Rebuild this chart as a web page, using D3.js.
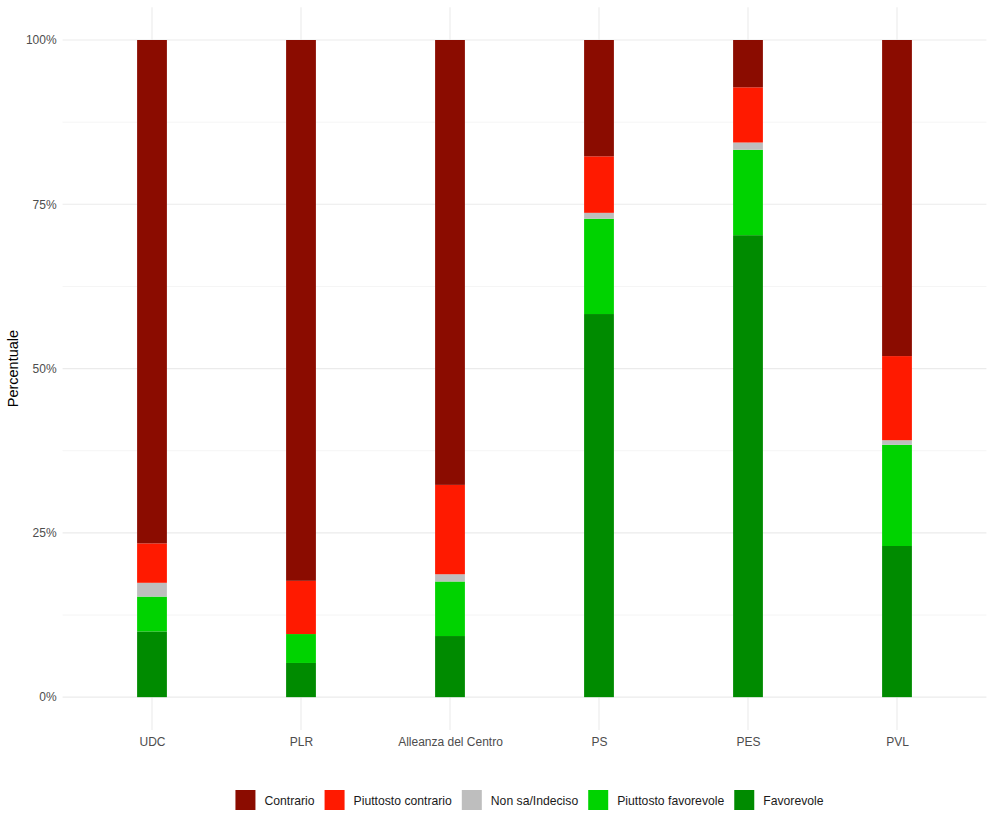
<!DOCTYPE html>
<html>
<head>
<meta charset="utf-8">
<script src="https://cdn.jsdelivr.net/npm/d3@7"></script>
<style>
  body { margin: 0; background: #fff; }
  text { font-family: "Liberation Sans", Arial, sans-serif; }
</style>
</head>
<body>
<svg id="chart"></svg>
<script>
// parties and response categories (bottom to top of each bar)
const partiti = ['UDC', 'PLR', 'Alleanza del Centro', 'PS', 'PES', 'PVL'];
const risposte = ['Favorevole', 'Piuttosto favorevole', 'Non sa/Indeciso', 'Piuttosto contrario', 'Contrario'];
const legendOrder = ['Contrario', 'Piuttosto contrario', 'Non sa/Indeciso', 'Piuttosto favorevole', 'Favorevole'];
const colori = ['#008B00', '#00D300', '#BEBEBE', '#FF1A00', '#8B0C00'];

// percentages per party
const favorevole    = [10.0, 5.2,  9.3, 58.3, 70.3, 23.0];
const piuttostoFav  = [5.3,  4.4,  8.3, 14.5, 13.0, 15.4];
const nonSa         = [2.1,  0.0,  1.1, 0.9,  1.1,  0.7];
const piuttostoCon  = [6.0,  8.1, 13.6, 8.6,  8.4, 12.8];
const contrario     = [76.6, 82.3, 67.7, 17.7, 7.2, 48.1];

const yTicks = [0, 25, 50, 75, 100];
const yMinor = [12.5, 37.5, 62.5, 87.5];

var svgWidth = 994, svgHeight = 828;
var svg = d3.select('#chart').attr('width', svgWidth).attr('height', svgHeight);

// panel
var pLeft = 62.6, pRight = 986.4, pTop = 7.15, pBottom = 730;

var rows = partiti.map((p, i) => ({
  partito: p,
  'Favorevole': favorevole[i],
  'Piuttosto favorevole': piuttostoFav[i],
  'Non sa/Indeciso': nonSa[i],
  'Piuttosto contrario': piuttostoCon[i],
  'Contrario': contrario[i]
}));
// normalise each row to 100
rows.forEach(r => {
  var tot = d3.sum(risposte, k => r[k]);
  risposte.forEach(k => r[k] = r[k] / tot * 100);
});

// ggplot-like discrete expansion: 0.6 units on each side
var x = d3.scalePoint().domain(partiti)
  .range([pLeft, pRight]).padding(0.6);
var unit = x.step();
var barW = unit * 0.2;

var y = d3.scaleLinear().domain([-5, 105]).range([pBottom, pTop]);
var color = d3.scaleOrdinal().domain(risposte).range(colori);

// grid
var grid = svg.append('g');
grid.selectAll('.minor').data(yMinor).enter().append('line')
  .attr('x1', pLeft).attr('x2', pRight)
  .attr('y1', d => y(d)).attr('y2', d => y(d))
  .attr('stroke', '#ebebeb').attr('stroke-width', 0.55);
grid.selectAll('.major').data(yTicks).enter().append('line')
  .attr('x1', pLeft).attr('x2', pRight)
  .attr('y1', d => y(d)).attr('y2', d => y(d))
  .attr('stroke', '#ebebeb').attr('stroke-width', 1.1);
grid.selectAll('.vmajor').data(partiti).enter().append('line')
  .attr('x1', d => x(d)).attr('x2', d => x(d))
  .attr('y1', pTop).attr('y2', pBottom)
  .attr('stroke', '#ebebeb').attr('stroke-width', 1.1);

// stacked bars
var stack = d3.stack().keys(risposte)(rows);
svg.append('g').selectAll('g').data(stack).enter().append('g')
  .attr('fill', d => color(d.key))
  .selectAll('rect').data(d => d).enter().append('rect')
  .attr('x', d => x(d.data.partito) - barW / 2)
  .attr('width', barW)
  .attr('y', d => y(d[1]))
  .attr('height', d => y(d[0]) - y(d[1]));

// y axis labels
var yAxis = svg.append('g')
  .attr('transform', 'translate(' + pLeft + ',0)')
  .call(d3.axisLeft(y).tickValues(yTicks).tickSize(0).tickPadding(6).tickFormat(d => d + '%'));
yAxis.select('.domain').remove();
yAxis.selectAll('text').attr('fill', '#4d4d4d').style('font-size', '12px')
  .style('font-family', '"Liberation Sans", Arial, sans-serif');

// x axis labels
var xAxis = svg.append('g')
  .attr('transform', 'translate(0,' + pBottom + ')')
  .call(d3.axisBottom(x).tickSize(0).tickPadding(7));
xAxis.select('.domain').remove();
xAxis.selectAll('text').attr('fill', '#4d4d4d').style('font-size', '12px')
  .style('font-family', '"Liberation Sans", Arial, sans-serif');

// y title
svg.append('text')
  .attr('transform', 'translate(18,' + ((pTop + pBottom) / 2) + ') rotate(-90)')
  .attr('text-anchor', 'middle').attr('fill', '#000')
  .style('font-size', '14.5px').text('Percentuale');

// legend
var legend = svg.append('g');
var items = legend.selectAll('g').data(legendOrder).enter().append('g');
items.append('rect').attr('width', 20).attr('height', 20).attr('y', 790)
  .attr('fill', d => color(d));
items.append('text').attr('x', 29).attr('y', 805)
  .attr('fill', '#1a1a1a').style('font-size', '12.2px').text(d => d);
var pos = 0, offs = [];
items.each(function(d) {
  offs.push(pos);
  pos += 29 + this.querySelector('text').getComputedTextLength() + 10;
});
var total = pos - 10;
var start = 529.5 - total / 2;
items.attr('transform', (d, i) => 'translate(' + (start + offs[i]) + ',0)');
</script>
</body>
</html>
